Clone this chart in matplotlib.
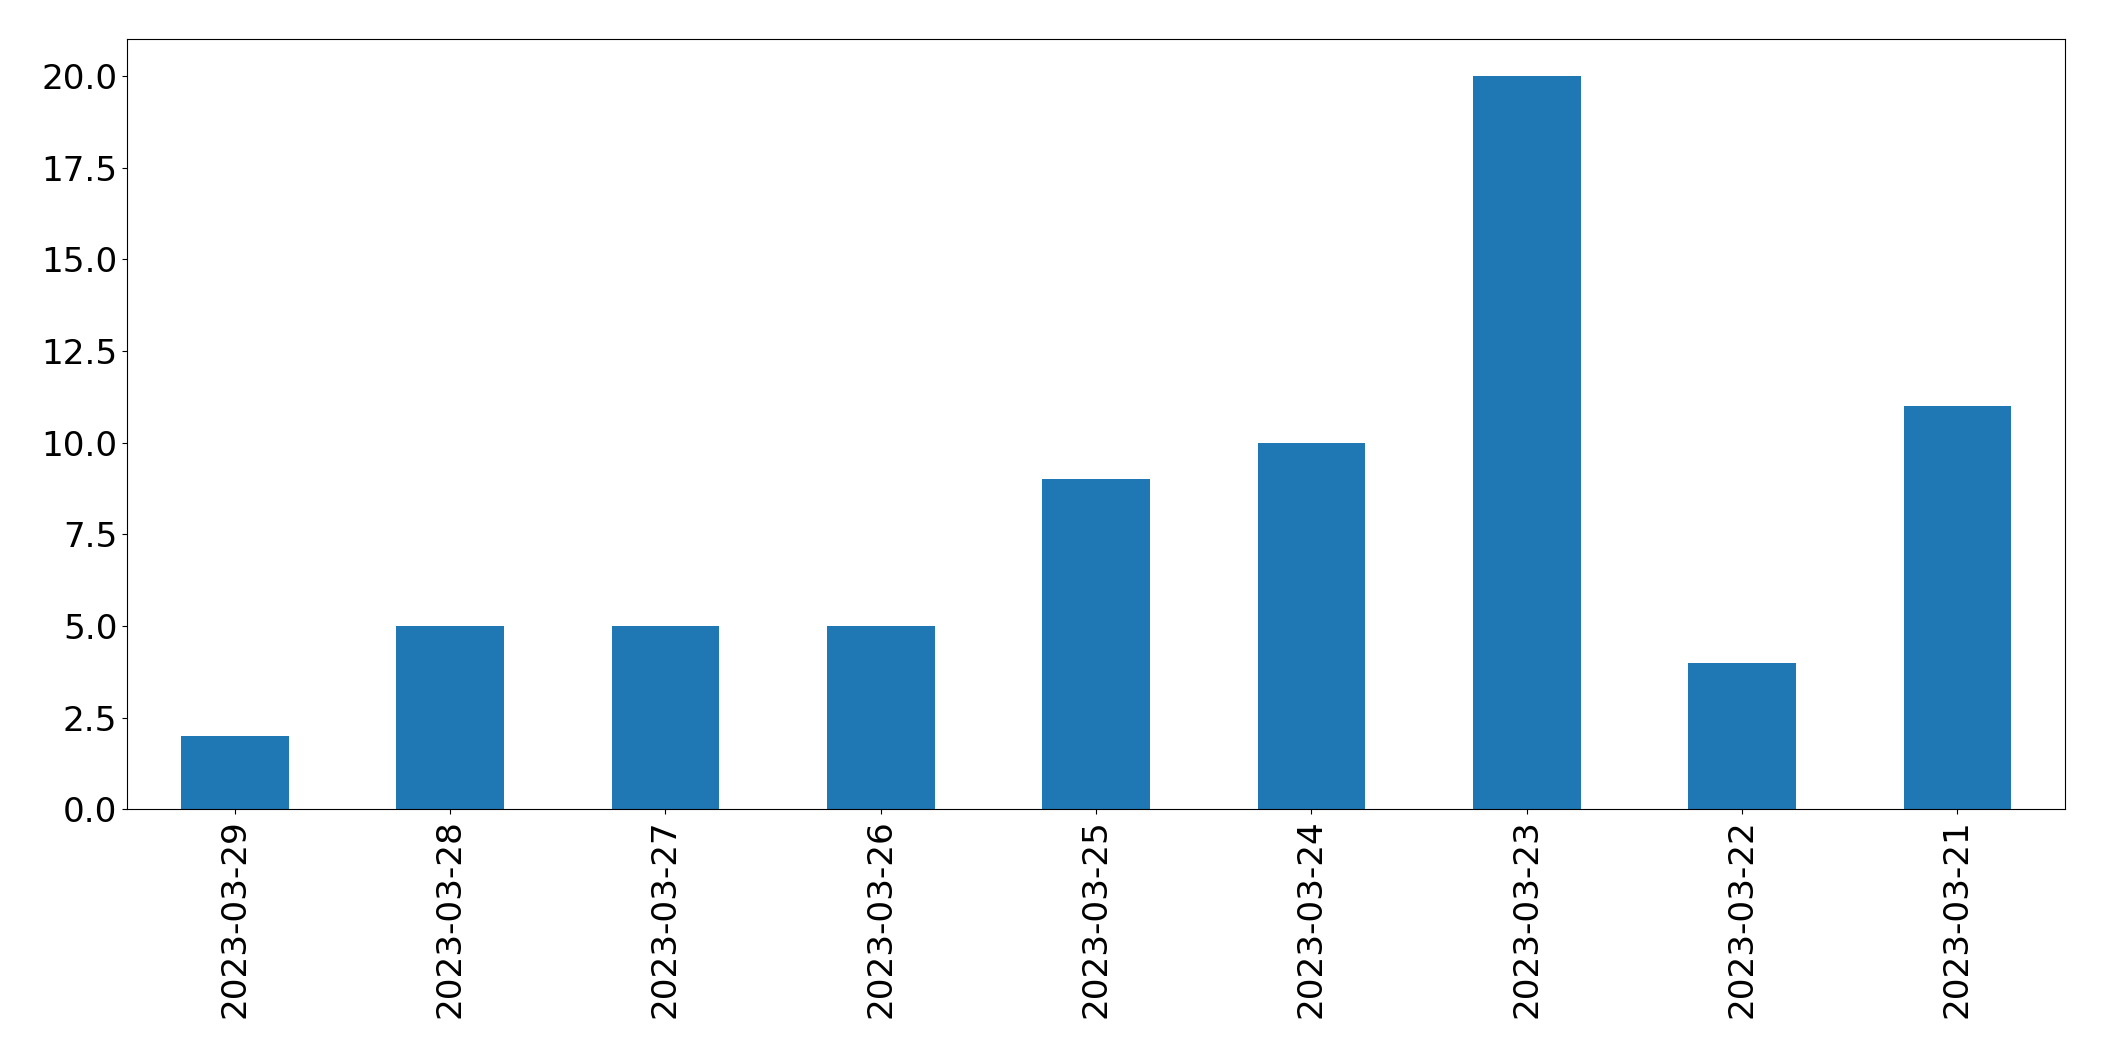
import matplotlib
matplotlib.use("Agg")
import matplotlib.pyplot as plt
import numpy as np

dates = ["2023-03-29", "2023-03-28", "2023-03-27", "2023-03-26", "2023-03-25",
         "2023-03-24", "2023-03-23", "2023-03-22", "2023-03-21"]
counts = [2, 5, 5, 5, 9, 10, 20, 4, 11]

fig = plt.figure(figsize=(21.04, 10.61), dpi=100)
ax = fig.add_axes([0.0604, 0.2372, 0.9211, 0.7257])
x = np.arange(len(dates))
ax.bar(x, counts, width=0.5, color="#1f77b4")
ax.set_xlim(-0.5, len(dates) - 0.5)
ax.set_ylim(0, 21)
ax.set_yticks(np.arange(0, 20.1, 2.5))
ax.set_yticklabels([f"{v:.1f}" for v in np.arange(0, 20.1, 2.5)])
ax.set_xticks(x)
ax.set_xticklabels(dates, rotation=90)
ax.tick_params(labelsize=24.7)
fig.savefig("out.png", dpi=100)
